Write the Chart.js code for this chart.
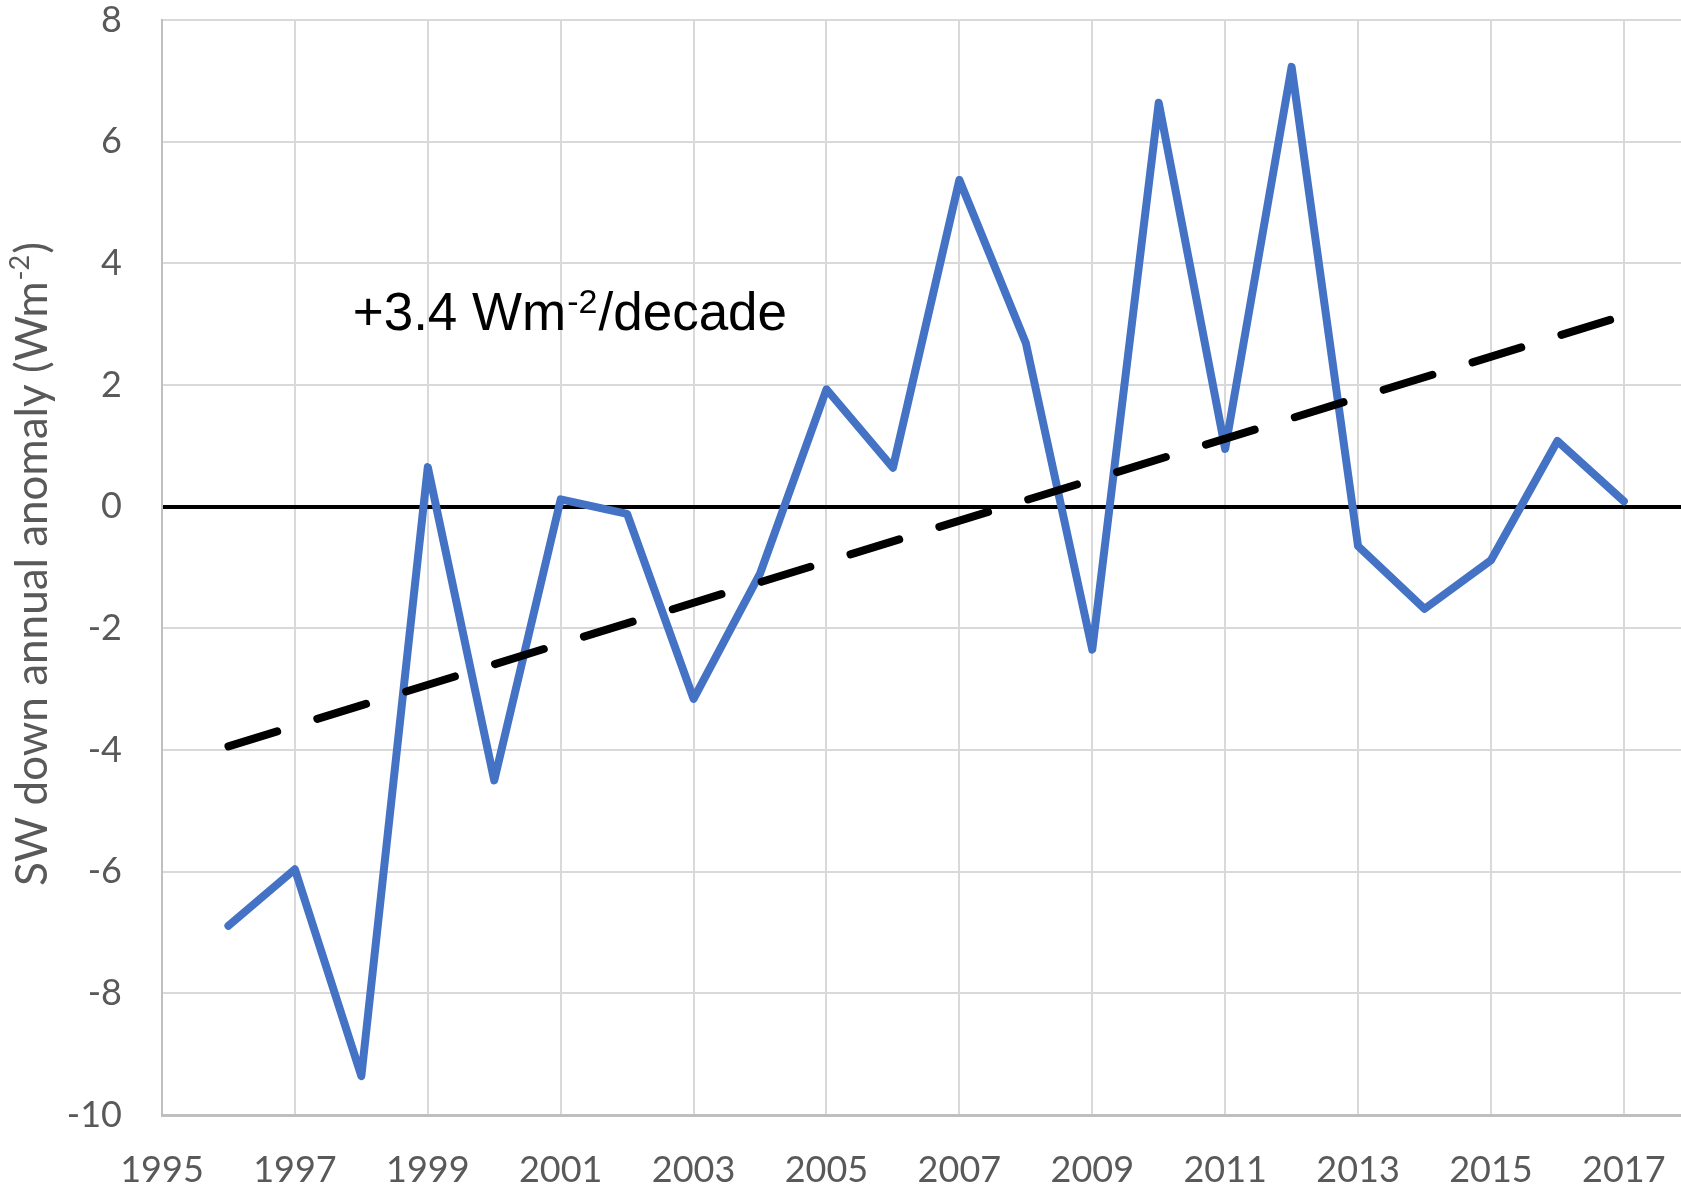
<!DOCTYPE html>
<html>
<head>
<meta charset="utf-8">
<title>SW down annual anomaly</title>
<script src="https://cdn.jsdelivr.net/npm/chart.js@4.4.1/dist/chart.umd.min.js"></script>
<style>
  html, body { margin: 0; padding: 0; background: #fff; }
  #chart { display: block; }
</style>
</head>
<body>
<canvas id="chart" width="1681" height="1189"></canvas>
<script>
// annual values
const years = [1996, 1997, 1998, 1999, 2000, 2001, 2002, 2003, 2004, 2005, 2006,
               2007, 2008, 2009, 2010, 2011, 2012, 2013, 2014, 2015, 2016, 2017];
const anomaly = [-6.89, -5.96, -9.36, 0.65, -4.5, 0.12, -0.12, -3.16, -1.1, 1.93, 0.64,
                 5.37, 2.69, -2.35, 6.64, 0.95, 7.23, -0.65, -1.68, -0.88, 1.08, 0.09];

// linear trend end points
const trendYears = [1996, 2017];
const trendValues = [-3.94, 3.14];

const xTicks = [1995, 1997, 1999, 2001, 2003, 2005, 2007, 2009, 2011, 2013, 2015, 2017];
const yTicks = [-10, -8, -6, -4, -2, 0, 2, 4, 6, 8];

const axisGray = '#595959';
const tickFont = { family: 'Lato', size: 36 };

// draws text with a superscript part, parts = [before, sup, after]
function drawSupText(ctx, parts, font, supFont, rise, color, x, y, centered) {
    ctx.fillStyle = color;
    ctx.textBaseline = 'alphabetic';
    ctx.textAlign = 'left';
    ctx.font = font;
    const w0 = ctx.measureText(parts[0]).width;
    const w2 = ctx.measureText(parts[2]).width;
    ctx.font = supFont;
    const w1 = ctx.measureText(parts[1]).width;
    let start = centered ? x - (w0 + w1 + w2) / 2 : x;
    ctx.font = font;
    ctx.fillText(parts[0], start, y);
    ctx.font = supFont;
    ctx.fillText(parts[1], start + w0 + 1, y - rise);
    ctx.font = font;
    ctx.fillText(parts[2], start + w0 + w1 + 2, y);
}

const labelsPlugin = {
    id: 'labels',
    afterDraw(chart) {
        const ctx = chart.ctx;
        const xs = chart.scales.x;
        const ys = chart.scales.y;

        // y axis title
        ctx.save();
        ctx.translate(47, 565);
        ctx.rotate(-Math.PI / 2);
        drawSupText(ctx, ['SW down annual anomaly (Wm', '-2', ')'],
            '44px Lato', '27px Lato', 18, axisGray, 0, 0, true);
        ctx.restore();

        // trend annotation
        ctx.save();
        drawSupText(ctx, ['+3.4 Wm', '-2', '/decade'],
            '53px "Liberation Sans"', '34px "Liberation Sans"', 17, '#000',
            xs.getPixelForValue(1997.87), ys.getPixelForValue(2.91), false);
        ctx.restore();
    }
};

const ctx = document.getElementById('chart');
new Chart(ctx, {
    type: 'line',
    data: {
        datasets: [
            {
                label: 'trend',
                data: trendYears.map((yr, i) => ({ x: yr, y: trendValues[i] })),
                borderColor: '#000',
                borderWidth: 8,
                borderDash: [51, 42],
                borderCapStyle: 'round',
                pointRadius: 0,
                order: 1
            },
            {
                label: 'SW down',
                data: years.map((yr, i) => ({ x: yr, y: anomaly[i] })),
                borderColor: '#4472C4',
                borderWidth: 8,
                borderCapStyle: 'round',
                borderJoinStyle: 'round',
                tension: 0,
                pointRadius: 0,
                order: 2
            }
        ]
    },
    options: {
        responsive: false,
        animation: false,
        layout: { padding: { top: 20, right: 0, bottom: 0, left: 0 } },
        plugins: {
            legend: { display: false },
            tooltip: { enabled: false }
        },
        scales: {
            x: {
                type: 'linear',
                min: 1995,
                max: 2017.86,
                afterBuildTicks: (scale) => { scale.ticks = xTicks.map(v => ({ value: v })); },
                afterFit: (scale) => {
                    scale.height = 74;
                    scale.paddingLeft = 0;
                    scale.paddingRight = 0;
                },
                grid: { color: '#d9d9d9', lineWidth: 2, drawTicks: false },
                border: { color: '#bfbfbf', width: 3 },
                ticks: {
                    autoSkip: false,
                    maxRotation: 0,
                    padding: 34,
                    color: axisGray,
                    font: tickFont,
                    callback: (v) => String(v)
                }
            },
            y: {
                type: 'linear',
                min: -10,
                max: 8,
                afterBuildTicks: (scale) => { scale.ticks = yTicks.map(v => ({ value: v })); },
                afterFit: (scale) => {
                    scale.width = 162;
                    scale.paddingTop = 0;
                    scale.paddingBottom = 0;
                },
                grid: {
                    drawTicks: false,
                    color: (c) => c.tick && c.tick.value === 0 ? '#000' : '#d9d9d9',
                    lineWidth: (c) => c.tick && c.tick.value === 0 ? 4 : 2
                },
                border: { color: '#bfbfbf', width: 2 },
                ticks: {
                    padding: 40,
                    color: axisGray,
                    font: tickFont
                }
            }
        }
    },
    plugins: [labelsPlugin]
});
</script>
</body>
</html>
